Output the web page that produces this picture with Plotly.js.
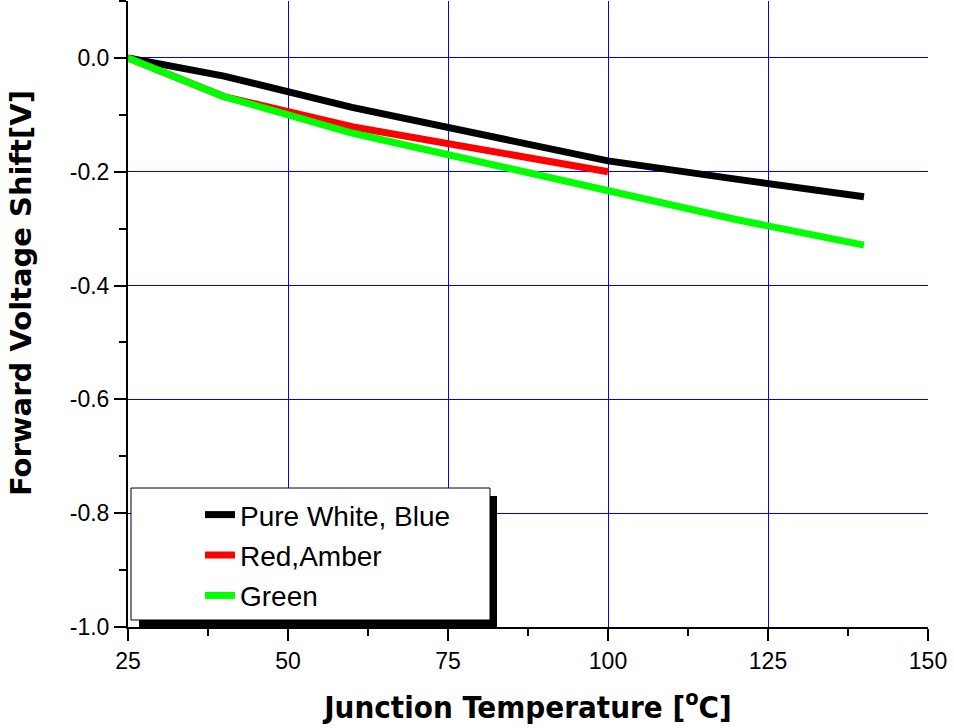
<!DOCTYPE html>
<html>
<head>
<meta charset="utf-8">
<script src="https://cdn.plot.ly/plotly-3.0.1.min.js"></script>
<style>html,body{margin:0;padding:0;background:#fff;}#chart{width:954px;height:728px;}</style>
</head>
<body>
<div id="chart"></div>
<script>
// Data
const temps = [25, 40, 60, 80, 100, 120, 140];
const tempsRed = [25, 40, 60, 80, 100];
const whiteBlue = [0.0, -0.032, -0.087, -0.135, -0.181, -0.213, -0.244];
const redAmber = [0.0, -0.068, -0.121, -0.160, -0.200];
const green = [0.0, -0.068, -0.132, -0.182, -0.235, -0.284, -0.329];
const seriesNames = ["Pure White, Blue", "Red,Amber", "Green"];
const xTicks = [25, 50, 75, 100, 125, 150];
const yTicks = [0.0, -0.2, -0.4, -0.6, -0.8, -1.0];
const yTickText = ["0.0", "-0.2", "-0.4", "-0.6", "-0.8", "-1.0"];
const xTitle = 'Junction Temperature [<sup>o</sup>C]';
const yTitle = 'Forward Voltage Shift[V]';

const traces = [
  {x: temps, y: whiteBlue, name: seriesNames[0], mode: 'lines', legendgroup: 'a',
   line: {color: '#000000', width: 7}},
  {x: tempsRed, y: redAmber, name: seriesNames[1], mode: 'lines', legendgroup: 'b',
   line: {color: '#ff0000', width: 7}},
  {x: temps, y: green, name: seriesNames[2], mode: 'lines', legendgroup: 'c',
   line: {color: '#00ff00', width: 7}}
];

const tickFontX = {family: 'Liberation Sans', size: 23, color: '#000000'};
const tickFontY = {family: 'Liberation Sans', size: 23, color: '#000000'};

const layout = {
  width: 954, height: 728,
  margin: {l: 128, r: 26, t: 1, b: 101},
  paper_bgcolor: '#ffffff', plot_bgcolor: '#ffffff',
  font: {family: 'Liberation Sans', size: 23, color: '#000000'},
  showlegend: true,
  legend: {
    x: 0.09, y: 0.219, xanchor: 'left', yanchor: 'top',
    bgcolor: 'rgba(0,0,0,0)', borderwidth: 0,
    font: {family: 'Liberation Sans, Arial, sans-serif', size: 28, color: '#000'},
    tracegroupgap: 1, traceorder: 'grouped'
  },
  xaxis: {
    range: [25, 150], tickvals: xTicks, ticktext: xTicks.map(String),
    ticks: 'outside', ticklen: 12, tickwidth: 2, tickcolor: '#000',
    minor: {dtick: 12.5, tick0: 25, ticks: 'outside', ticklen: 7, tickwidth: 2, tickcolor: '#000', showgrid: false},
    showline: true, linewidth: 2, linecolor: '#000',
    showgrid: true, gridcolor: '#0000ff', gridwidth: 1,
    zeroline: false,
    tickfont: tickFontX,
    title: {text: xTitle, standoff: 24,
      font: {family: 'DejaVu Sans Condensed, DejaVu Sans, sans-serif', size: 31, color: '#000', weight: 'bold'}}
  },
  yaxis: {
    range: [-1.0, 0.1], tickvals: yTicks, ticktext: yTickText,
    ticks: 'outside', ticklen: 12, tickwidth: 2, tickcolor: '#000',
    minor: {dtick: 0.1, tick0: 0, ticks: 'outside', ticklen: 7, tickwidth: 2, tickcolor: '#000', showgrid: false},
    showline: true, linewidth: 2, linecolor: '#000',
    showgrid: true, gridcolor: '#0000ff', gridwidth: 1,
    zeroline: false,
    tickfont: tickFontY
  },
  xaxis2: {
    overlaying: 'x', side: 'top', anchor: 'y', range: [25, 150],
    tickvals: xTicks, ticks: 'inside', ticklen: 12, tickwidth: 2, tickcolor: '#000',
    minor: {dtick: 12.5, tick0: 25, ticks: 'inside', ticklen: 7, tickwidth: 2, tickcolor: '#000', showgrid: false},
    showticklabels: false, showline: true, linewidth: 2, linecolor: '#000',
    showgrid: false, zeroline: false
  },
  yaxis2: {
    overlaying: 'y', side: 'right', anchor: 'x', range: [-1.0, 0.1],
    tickvals: yTicks, ticks: 'inside', ticklen: 12, tickwidth: 2, tickcolor: '#000',
    minor: {dtick: 0.1, tick0: 0, ticks: 'inside', ticklen: 7, tickwidth: 2, tickcolor: '#000', showgrid: false},
    showticklabels: false, showline: true, linewidth: 2, linecolor: '#000',
    showgrid: false, zeroline: false
  },
  annotations: [
    {text: yTitle, xref: 'paper', yref: 'paper', x: -0.13375, y: 0.5335,
     xanchor: 'center', yanchor: 'middle', textangle: -90, showarrow: false,
     font: {family: 'DejaVu Sans, Verdana, sans-serif', size: 29, color: '#000', weight: 'bold'}}
  ],
  shapes: [
    {type: 'rect', xref: 'paper', yref: 'paper', layer: 'above',
     x0: 0.01375, x1: 0.46125, y0: -0.0016, y1: 0.2093,
     fillcolor: '#000000', line: {width: 0}},
    {type: 'rect', xref: 'paper', yref: 'paper', layer: 'above',
     x0: 0.00375, x1: 0.4525, y0: 0.01118, y1: 0.222,
     fillcolor: '#ffffff', line: {color: '#000000', width: 1}}
  ]
};

Plotly.newPlot('chart', traces, layout, {staticPlot: true, displayModeBar: false});
</script>
</body>
</html>
